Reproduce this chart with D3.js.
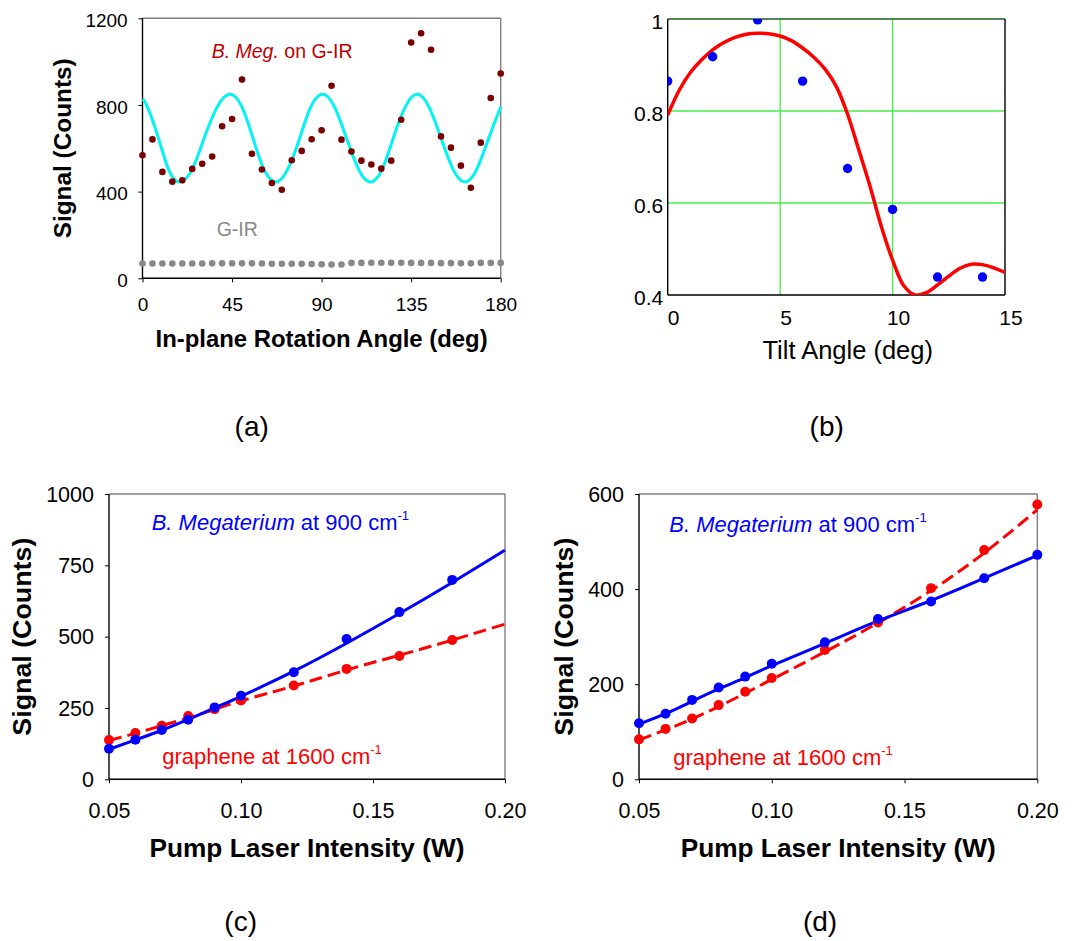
<!DOCTYPE html>
<html lang="en">
<meta charset="utf-8">
<style>
body { margin: 0; background: #fff; }
svg text { white-space: pre; }
</style>
<body>
<div id="chart"></div>
<script src="https://d3js.org/d3.v7.min.js"></script>
<script>
"use strict";

const FONT = '"Liberation Sans", Arial, sans-serif';

// ---------- (a) in-plane rotation ----------
const angleA = [0, 5, 10, 15, 20, 25, 30, 35, 40, 45, 50, 55, 60, 65, 70, 75, 80, 85, 90,
                95, 100, 105, 110, 115, 120, 125, 130, 135, 140, 145, 150, 155, 160, 165, 170, 175, 180];
const megA = [568, 641, 491, 446, 452, 505, 529, 562, 702, 735, 917, 575, 502, 440, 409, 545, 588, 642, 683,
              889, 640, 585, 543, 525, 506, 543, 732, 1088, 1131, 1055, 655, 603, 520, 418, 626, 832, 945];
const girA = [68, 68, 68, 68, 68, 68, 68, 69, 69, 69, 69, 69, 68, 67, 67, 67, 67, 66, 65,
              64, 64, 71, 71, 72, 72, 72, 72, 71, 71, 71, 70, 70, 69, 69, 71, 71, 71];
const fitAngleA = [0, 2.5, 8, 13, 18.5, 25, 31, 37.5, 44, 50, 55.5, 61, 67, 73, 79, 84.5, 90.5,
                   96.5, 102.5, 108.5, 114.5, 120.5, 126, 132, 138, 144, 150, 156, 162, 168, 174, 180];
const fitA = [826, 790, 647, 504, 445, 504, 647, 790, 849, 790, 647, 504, 445, 504, 647, 790, 849,
              790, 647, 504, 445, 504, 647, 790, 849, 790, 647, 504, 445, 504, 647, 792];
const xTicksA = [0, 45, 90, 135, 180];
const yTicksA = [0, 400, 800, 1200];

// ---------- (b) tilt angle ----------
const tiltB = [0, 2, 4, 6, 8, 10, 12, 14];
const normB = [0.865, 0.918, 0.998, 0.865, 0.675, 0.586, 0.439, 0.439];
const fitTiltB = [0, 0.5, 1, 1.5, 2, 2.5, 3, 3.5, 4, 4.5, 5, 5.5, 6, 6.5, 7, 7.5, 8, 8.5, 9, 9.5,
                  10, 10.5, 11, 11.5, 12, 12.5, 13, 13.5, 14, 14.5, 15];
const fitB = [0.791, 0.844, 0.883, 0.911, 0.933, 0.949, 0.960, 0.967, 0.969, 0.968, 0.963, 0.953,
              0.937, 0.917, 0.891, 0.853, 0.793, 0.715, 0.636, 0.549, 0.476, 0.420, 0.400, 0.405,
              0.422, 0.441, 0.458, 0.467, 0.466, 0.459, 0.449];
const xTicksB = [0, 5, 10, 15];
const yTicksB = [0.4, 0.6, 0.8, 1];

// ---------- (c) pump power, sample 1 ----------
const powerC = [0.05, 0.06, 0.07, 0.08, 0.09, 0.10, 0.12, 0.14, 0.16, 0.18];
const megC = [107, 139, 173, 209, 252, 293, 375, 492, 586, 699];
const grC = [138, 162, 188, 222, 246, 276, 329, 387, 432, 488];
const fitPowerC = [0.05, 0.06, 0.07, 0.08, 0.09, 0.10, 0.12, 0.14, 0.16, 0.18, 0.20];
const megFitC = [105, 138, 172, 210, 250, 291, 379, 477, 581, 690, 803];
const grFitC = [136, 161, 188, 215, 245, 275, 327, 383, 435, 488, 544];
const yTicksC = [0, 250, 500, 750, 1000];

// ---------- (d) pump power, sample 2 ----------
const powerD = [0.05, 0.06, 0.07, 0.08, 0.09, 0.10, 0.12, 0.14, 0.16, 0.18, 0.20];
const megD = [118, 138, 167, 193, 216, 243, 288, 337, 374, 423, 472];
const grD = [84, 106, 128, 156, 184, 213, 272, 330, 402, 482, 578];
const megFitD = [116, 138, 164, 190, 214, 239, 286, 333, 376, 423, 471];
const grFitD = [83, 104, 127, 153, 181, 210, 268, 329, 397, 476, 567];
const yTicksD = [0, 200, 400, 600];
const xTicksP = [0.05, 0.10, 0.15, 0.20];

const svg = d3.select("#chart").append("svg")
    .attr("width", 1077).attr("height", 941)
    .attr("font-family", FONT);
svg.append("rect").attr("width", 1077).attr("height", 941).attr("fill", "#fff");

// plot box: colors for top, right, bottom, left
function frame(g, x, y, cols) {
  const [x0, x1] = x.range(), [y0, y1] = y.range();
  const sides = [[x0, y1, x1, y1], [x1, y1, x1, y0], [x0, y0, x1, y0], [x0, y1, x0, y0]];
  sides.forEach((s, i) => g.append("line")
      .attr("x1", s[0]).attr("y1", s[1]).attr("x2", s[2]).attr("y2", s[3])
      .attr("stroke", cols[i]).attr("stroke-width", 1.4));
}

function leftAxis(g, x, y, ticks, size, pad, fs, dy, fmt) {
  g.append("g").attr("transform", `translate(${x.range()[0]},0)`)
    .call(d3.axisLeft(y).tickValues(ticks).tickSize(size).tickPadding(pad).tickFormat(fmt))
    .attr("font-family", FONT).attr("font-size", fs)
    .call(s => s.select(".domain").remove())
    .call(s => s.selectAll("text").attr("dy", dy).attr("fill", "#000"));
}

function bottomAxis(g, x, y, ticks, size, pad, fs, fmt, dx) {
  g.append("g").attr("transform", `translate(0,${y.range()[0]})`)
    .call(d3.axisBottom(x).tickValues(ticks).tickSize(size).tickPadding(pad).tickFormat(fmt))
    .attr("font-family", FONT).attr("font-size", fs)
    .call(s => s.select(".domain").remove())
    .call(s => s.selectAll("text").attr("dx", dx || 0).attr("fill", "#000"));
}

function title(g, txt, x, y, fs, bold, len, rotate) {
  const t = g.append("text")
      .attr("transform", `translate(${x},${y})` + (rotate ? " rotate(-90)" : ""))
      .attr("text-anchor", "middle")
      .attr("font-size", fs)
      .attr("font-weight", bold ? "bold" : "normal")
      .text(txt);
  if (len) t.attr("textLength", len).attr("lengthAdjust", "spacingAndGlyphs");
}

function label(txt, x, y) {
  svg.append("text").attr("x", x).attr("y", y).attr("text-anchor", "middle")
    .attr("font-size", 28).text(txt);
}

// ================= (a) =================
const xA = d3.scaleLinear().domain([0, 180]).range([142.5, 500.7]);
const yA = d3.scaleLinear().domain([0, 1200]).range([278.3, 18.3]);
const gA = svg.append("g");
frame(gA, xA, yA, ["#808080", "#808080", "#000", "#000"]);
leftAxis(gA, xA, yA, yTicksA, 4, 10.8, 19, "0.43em", d3.format("d"));
bottomAxis(gA, xA, yA, xTicksA, 4, 15.5, 19, d3.format("d"));

gA.append("path")
  .datum(fitAngleA.map((a, i) => [a, fitA[i]]))
  .attr("fill", "none").attr("stroke", "#00f4f4").attr("stroke-width", 3)
  .attr("d", d3.line().x(d => xA(d[0])).y(d => yA(d[1])).curve(d3.curveNatural));

gA.selectAll("circle.gir").data(angleA).join("circle").attr("class", "gir")
  .attr("cx", d => xA(d)).attr("cy", (d, i) => yA(girA[i])).attr("r", 3.3).attr("fill", "#888");
gA.selectAll("circle.meg").data(angleA).join("circle").attr("class", "meg")
  .attr("cx", d => xA(d)).attr("cy", (d, i) => yA(megA[i])).attr("r", 3.3).attr("fill", "#7a0000");

const annA = gA.append("text").attr("x", 211.7).attr("y", 58.3)
  .attr("font-size", 19.5).attr("fill", "#c00000");
annA.append("tspan").attr("font-style", "italic").text("B. Meg.");
annA.append("tspan").text(" on G-IR");
gA.append("text").attr("x", 216.7).attr("y", 236).attr("font-size", 19.5)
  .attr("fill", "#888").text("G-IR");

title(gA, "In-plane Rotation Angle (deg)", 321.6, 346.7, 24, true, 332);
title(gA, "Signal (Counts)", 71, 148.3, 24, true, 180, true);
label("(a)", 251.7, 436);

// ================= (b) =================
const xB = d3.scaleLinear().domain([0, 15]).range([667.7, 1005]);
const yB = d3.scaleLinear().domain([0.4, 1]).range([295, 19]);
const gB = svg.append("g");
svg.append("defs").append("clipPath").attr("id", "clipB").append("rect")
  .attr("x", xB(0)).attr("y", yB(1)).attr("width", xB(15) - xB(0)).attr("height", yB(0.4) - yB(1));

gB.selectAll("line.gx").data([5, 10]).join("line").attr("class", "gx")
  .attr("x1", d => xB(d)).attr("x2", d => xB(d)).attr("y1", yB(0.4)).attr("y2", yB(1))
  .attr("stroke", "#44ee44").attr("stroke-width", 1.3);
gB.selectAll("line.gy").data([0.6, 0.8]).join("line").attr("class", "gy")
  .attr("y1", d => yB(d)).attr("y2", d => yB(d)).attr("x1", xB(0)).attr("x2", xB(15))
  .attr("stroke", "#44ee44").attr("stroke-width", 1.3);
frame(gB, xB, yB, ["#1f5a1f", "#000", "#000", "#000"]);
leftAxis(gB, xB, yB, yTicksB, 0, 4.5, 21, "0.44em", d => String(d));
bottomAxis(gB, xB, yB, xTicksB, 0, 15, 21, d3.format("d"), 5.5);

const plotB = gB.append("g").attr("clip-path", "url(#clipB)");
plotB.append("path")
  .datum(fitTiltB.map((t, i) => [t, fitB[i]]))
  .attr("fill", "none").attr("stroke", "#ff0000").attr("stroke-width", 3.5)
  .attr("d", d3.line().x(d => xB(d[0])).y(d => yB(d[1])).curve(d3.curveCatmullRom));
plotB.selectAll("circle").data(tiltB).join("circle")
  .attr("cx", d => xB(d)).attr("cy", (d, i) => yB(normB[i])).attr("r", 4.7).attr("fill", "#0000ff");

title(gB, "Tilt Angle (deg)", 847.7, 359, 25.5, false);
label("(b)", 826.7, 436);

// ================= (c) and (d) =================
function powerPanel(x, y, ticksY, pts, megPts, grPts, fitX, megFit, grFit, annX, annY, titleX, letterX, letter) {
  const g = svg.append("g");
  frame(g, x, y, ["#808080", "#808080", "#000", "#000"]);
  leftAxis(g, x, y, ticksY, 4, 11, 21.5, "0.34em", d3.format("d"));
  bottomAxis(g, x, y, xTicksP, 4, 19, 21.5, d3.format(".2f"));

  const line = d3.line().x(d => x(d[0])).y(d => y(d[1])).curve(d3.curveNatural);
  g.append("path").datum(fitX.map((p, i) => [p, grFit[i]]))
    .attr("fill", "none").attr("stroke", "#ff0000").attr("stroke-width", 3)
    .attr("stroke-dasharray", "13,6").attr("d", line);
  g.append("path").datum(fitX.map((p, i) => [p, megFit[i]]))
    .attr("fill", "none").attr("stroke", "#0000ff").attr("stroke-width", 3).attr("d", line);

  g.append("g").selectAll("circle").data(pts).join("circle")
    .attr("cx", d => x(d)).attr("cy", (d, i) => y(grPts[i])).attr("r", 5).attr("fill", "#ff0000");
  g.append("g").selectAll("circle").data(pts).join("circle")
    .attr("cx", d => x(d)).attr("cy", (d, i) => y(megPts[i])).attr("r", 5).attr("fill", "#0000ff");

  const t1 = g.append("text").attr("x", annX[0]).attr("y", annY[0]).attr("font-size", 22).attr("fill", "#0000ff");
  t1.append("tspan").attr("font-style", "italic").text("B. Megaterium");
  t1.append("tspan").text(" at 900 cm");
  t1.append("tspan").attr("font-size", 13).attr("dy", -10).text("-1");
  const t2 = g.append("text").attr("x", annX[1]).attr("y", annY[1]).attr("font-size", 22).attr("fill", "#ff0000");
  t2.append("tspan").text("graphene at 1600 cm");
  t2.append("tspan").attr("font-size", 13).attr("dy", -10).text("-1");

  title(g, "Pump Laser Intensity (W)", (x.range()[0] + x.range()[1]) / 2, 857, 25, true, 315);
  title(g, "Signal (Counts)", titleX, (y.range()[0] + y.range()[1]) / 2, 25, true, 198, true);
  label(letter, letterX, 931);
}

const xC = d3.scaleLinear().domain([0.05, 0.20]).range([109, 505]);
const yC = d3.scaleLinear().domain([0, 1000]).range([779.3, 494]);
powerPanel(xC, yC, yTicksC, powerC, megC, grC, fitPowerC, megFitC, grFitC,
           [151.7, 162.3], [530, 764], 31, 240.7, "(c)");

const xD = d3.scaleLinear().domain([0.05, 0.20]).range([639, 1037.3]);
const yD = d3.scaleLinear().domain([0, 600]).range([779.3, 494]);
powerPanel(xD, yD, yTicksD, powerD, megD, grD, powerD, megFitD, grFitD,
           [669.3, 673.3], [531.7, 765], 572.5, 820, "(d)");
</script>
</body>
</html>
